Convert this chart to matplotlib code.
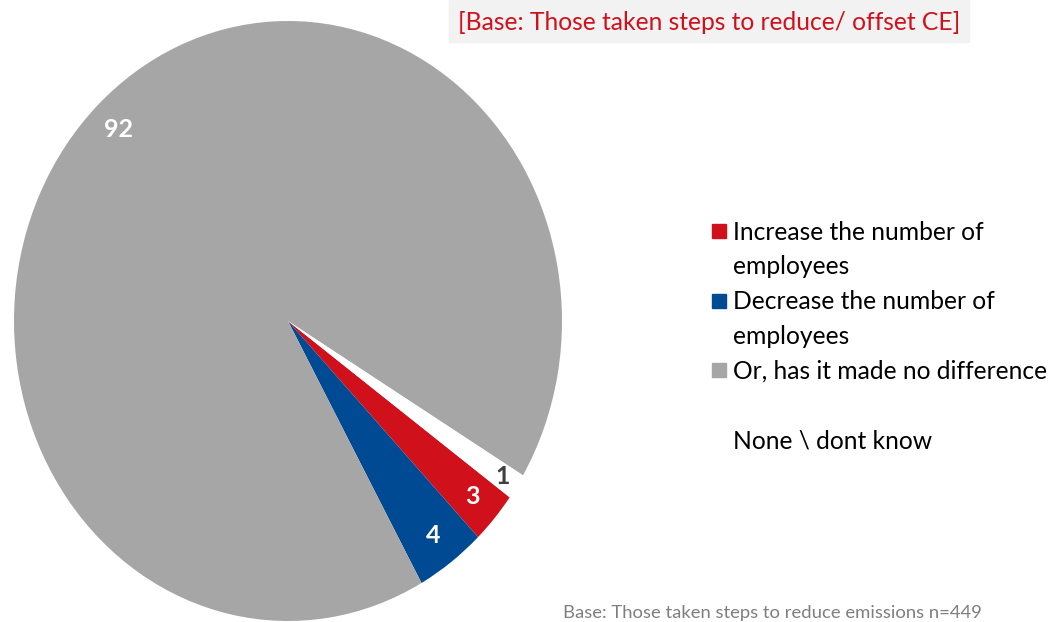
import numpy as np
import matplotlib.pyplot as plt
from matplotlib.patches import Rectangle

plt.rcParams['font.family'] = ['Lato', 'DejaVu Sans']

# données
categories = ["Increase the number of\nemployees",
              "Decrease the number of\nemployees",
              "Or, has it made no difference",
              "\nNone \\ dont know"]
values = [2.8, 4.1, 91.7, 1.4]
colors = ["#D0111B", "#004A93", "#A6A6A6", "#FFFFFF"]
value_text_colors = ["white", "white", "white", "#404040"]

W, H = 1053, 622
fig = plt.figure(figsize=(W / 100, H / 100), dpi=100)

# camembert (légèrement étiré verticalement comme l'original)
ax = fig.add_axes([14 / W, 1 / H, 548 / W, 600 / H])
wedges, _ = ax.pie(values, colors=colors, startangle=-36, counterclock=False,
                   wedgeprops=dict(linewidth=0))
ax.set_aspect('auto')
ax.set_xlim(-1, 1)
ax.set_ylim(-1, 1)

for i, (w, v) in enumerate(zip(wedges, values)):
    mid = np.deg2rad((w.theta1 + w.theta2) / 2)
    r = 0.94 if i == 3 else 0.89
    ax.text(r * np.cos(mid), r * np.sin(mid), f"{v:.0f}", ha="center", va="center",
            fontsize=18, fontweight="bold", color=value_text_colors[i])

# bandeau titre
fig.patches.append(Rectangle((449 / W, 1 - 42 / H), 520 / W, 42 / H,
                             transform=fig.transFigure, color="#F2F2F2", zorder=0))
fig.text(709 / W, 1 - 22 / H, "[Base: Those taken steps to reduce/ offset CE]",
         ha="center", va="center", fontsize=17.7, color="#D0111B")

# légende manuelle, une ligne à la fois
line_h = 34.8
line = 0
for lab, col in zip(categories, colors):
    y0 = 231 + line * line_h
    fig.patches.append(Rectangle((712 / W, 1 - (y0 + 7) / H), 14 / W, 14 / H,
                                 transform=fig.transFigure, color=col))
    for part in lab.split("\n"):
        y = 231 + line * line_h
        if part:
            fig.text(733 / W, 1 - (y + 1) / H, part, ha="left", va="center",
                     fontsize=17.7, color="#000000")
        line += 1

# note de bas
fig.text(563 / W, 1 - 613 / H, "Base: Those taken steps to reduce emissions n=449",
         ha="left", va="center", fontsize=13.3, color="#7F7F7F")

fig.savefig("out.png", dpi=100)
